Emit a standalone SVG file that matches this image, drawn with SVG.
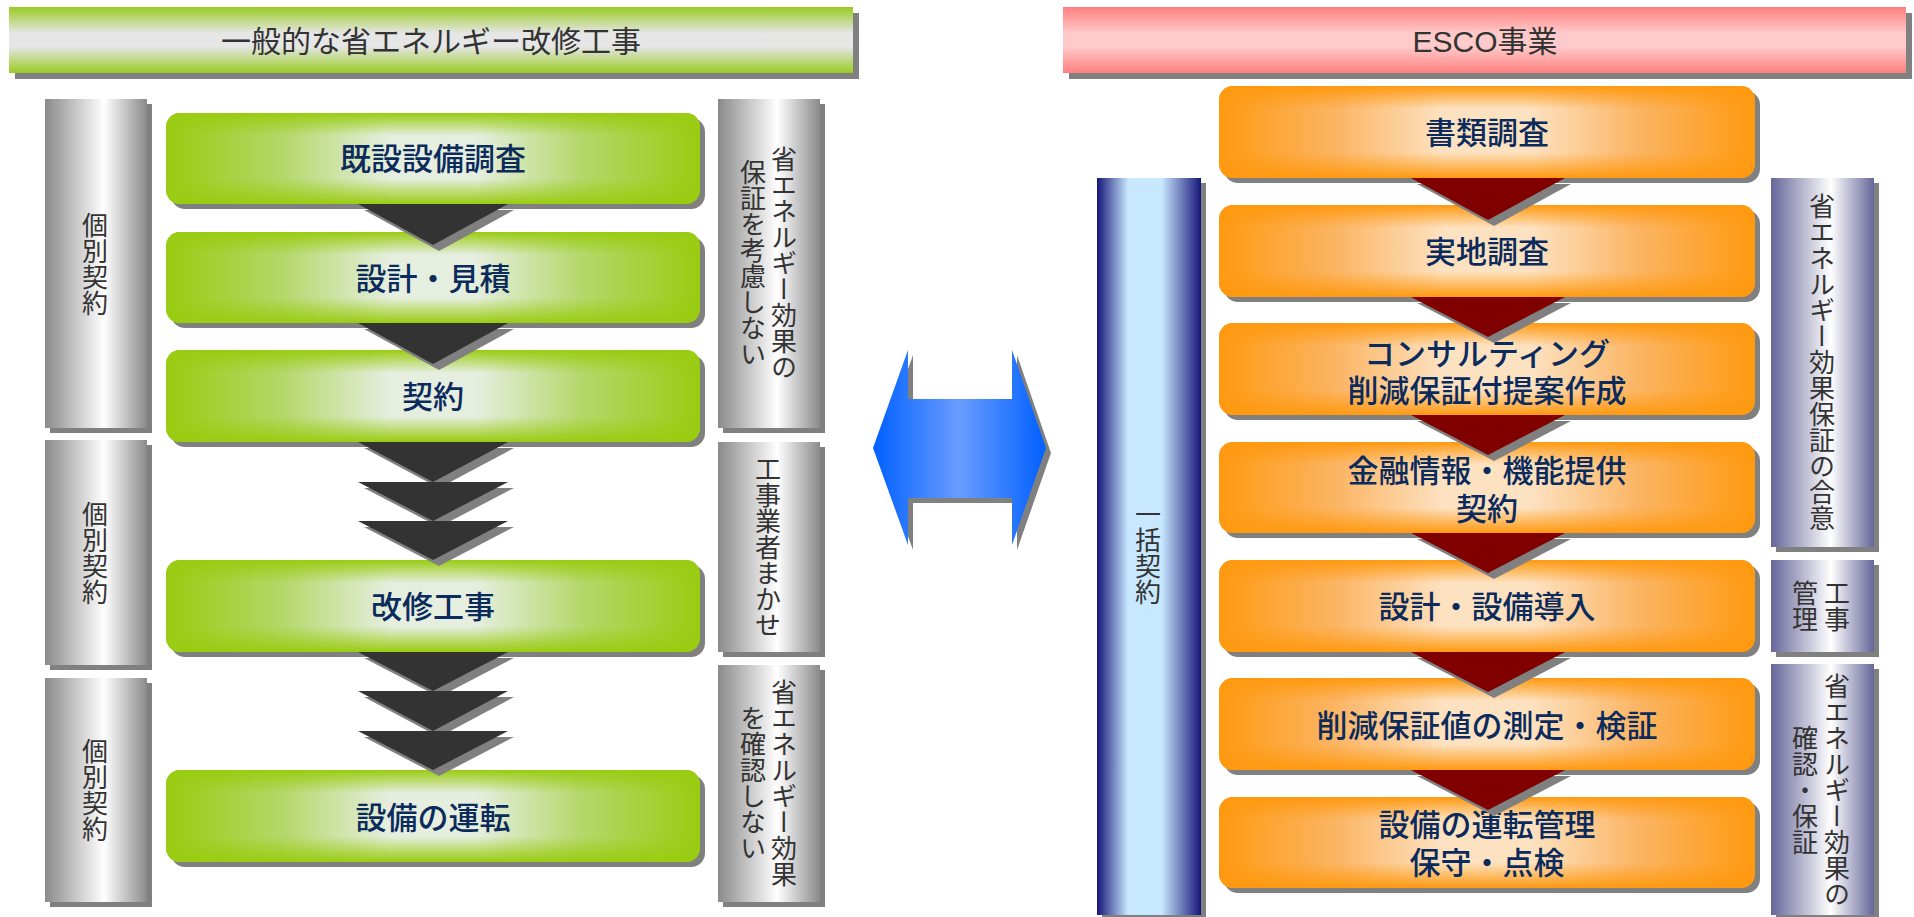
<svg xmlns="http://www.w3.org/2000/svg" width="1914" height="917" viewBox="0 0 1914 917">
<defs>
<style>
.sh{fill:#808080}
.ht{font-family:"Liberation Sans","Noto Sans CJK JP",sans-serif;font-size:30px;fill:#333;text-anchor:middle;dominant-baseline:central}
.bt{font-family:"Liberation Sans","Noto Sans CJK JP",sans-serif;font-size:31px;font-weight:500;fill:#0b2b5c;text-anchor:middle;dominant-baseline:central}
.vt{font-family:"Noto Sans CJK JP",sans-serif;font-size:26px;fill:#333;text-anchor:middle;dominant-baseline:central;writing-mode:vertical-rl}
.gb{fill:url(#gGreenH)}
.gbo{fill:url(#gGreenV)}
.ob{fill:url(#gOrangeH)}
.obo{fill:url(#gOrangeV)}
.grey{fill:url(#gGrey)}
.purp{fill:url(#gPurple)}
.tri{fill:#333333}
.tri2{fill:#800000}
</style>
<linearGradient id="gHeadG" x1="0" y1="0" x2="0" y2="1">
<stop offset="0" stop-color="#99cc22"/><stop offset="0.4" stop-color="#e6e6e6"/><stop offset="0.6" stop-color="#e6e6e6"/><stop offset="1" stop-color="#99cc22"/>
</linearGradient>
<linearGradient id="gHeadP" x1="0" y1="0" x2="0" y2="1">
<stop offset="0" stop-color="#ff7f7f"/><stop offset="0.4" stop-color="#ffcaca"/><stop offset="0.6" stop-color="#ffcaca"/><stop offset="1" stop-color="#ff7f7f"/>
</linearGradient>
<linearGradient id="gGreenH" x1="0" y1="0" x2="1" y2="0">
<stop offset="0" stop-color="#99cc11"/><stop offset="0.22" stop-color="#b4d86a"/><stop offset="0.42" stop-color="#e6eee0"/><stop offset="0.58" stop-color="#e6eee0"/><stop offset="0.78" stop-color="#b4d86a"/><stop offset="1" stop-color="#99cc11"/>
</linearGradient>
<linearGradient id="gGreenV" x1="0" y1="0" x2="0" y2="1">
<stop offset="0" stop-color="#99cc11" stop-opacity="1"/><stop offset="0.25" stop-color="#99cc11" stop-opacity="0"/><stop offset="0.72" stop-color="#99cc11" stop-opacity="0"/><stop offset="1" stop-color="#99cc11" stop-opacity="1"/>
</linearGradient>
<linearGradient id="gOrangeH" x1="0" y1="0" x2="1" y2="0">
<stop offset="0" stop-color="#ff9910"/><stop offset="0.22" stop-color="#fbb564"/><stop offset="0.42" stop-color="#fde2c2"/><stop offset="0.58" stop-color="#fde2c2"/><stop offset="0.78" stop-color="#fbb564"/><stop offset="1" stop-color="#ff9910"/>
</linearGradient>
<linearGradient id="gOrangeV" x1="0" y1="0" x2="0" y2="1">
<stop offset="0" stop-color="#ff9910" stop-opacity="1"/><stop offset="0.25" stop-color="#ff9910" stop-opacity="0"/><stop offset="0.72" stop-color="#ff9910" stop-opacity="0"/><stop offset="1" stop-color="#ff9910" stop-opacity="1"/>
</linearGradient>
<linearGradient id="gGrey" x1="0" y1="0" x2="1" y2="0">
<stop offset="0" stop-color="#8a8a8a"/><stop offset="0.58" stop-color="#ffffff"/><stop offset="1" stop-color="#8a8a8a"/>
</linearGradient>
<linearGradient id="gPurple" x1="0" y1="0" x2="1" y2="0">
<stop offset="0" stop-color="#66669a"/><stop offset="0.58" stop-color="#ffffff"/><stop offset="1" stop-color="#66669a"/>
</linearGradient>
<linearGradient id="gNavy" x1="0" y1="0" x2="1" y2="0">
<stop offset="0" stop-color="#161678"/><stop offset="0.3" stop-color="#c8e8ff"/><stop offset="0.62" stop-color="#c8e8ff"/><stop offset="1" stop-color="#161678"/>
</linearGradient>
<linearGradient id="gBlue" x1="0" y1="0" x2="1" y2="0">
<stop offset="0" stop-color="#0060ff"/><stop offset="0.5" stop-color="#6a9cff"/><stop offset="1" stop-color="#0060ff"/>
</linearGradient>
</defs>

<g id="header-left">
<rect class="sh" x="15" y="13" width="844" height="66"/>
<rect x="9" y="7" width="844" height="66" fill="url(#gHeadG)"/>
<text class="ht" x="431" y="41">一般的な省エネルギー改修工事</text>
</g>
<g id="header-right">
<rect class="sh" x="1069" y="13" width="843" height="66"/>
<rect x="1063" y="7" width="843" height="66" fill="url(#gHeadP)"/>
<text class="ht" x="1485" y="41">ESCO事業</text>
</g>

<g id="left-contract-1">
<rect class="sh" x="50" y="104" width="102" height="329"/>
<rect class="grey" x="45" y="99" width="102" height="329"/>
<text class="vt" x="95" y="264">個別契約</text>
</g>
<g id="left-contract-2">
<rect class="sh" x="50" y="445" width="102" height="225"/>
<rect class="grey" x="45" y="440" width="102" height="225"/>
<text class="vt" x="95" y="553">個別契約</text>
</g>
<g id="left-contract-3">
<rect class="sh" x="50" y="683" width="102" height="224"/>
<rect class="grey" x="45" y="678" width="102" height="224"/>
<text class="vt" x="95" y="790">個別契約</text>
</g>

<g id="left-note-1">
<rect class="sh" x="723" y="104" width="102" height="329"/>
<rect class="grey" x="718" y="99" width="102" height="329"/>
<text class="vt" x="784" y="263">省エネルギー効果の</text>
<text class="vt" x="753" y="263">保証を考慮しない</text>
</g>
<g id="left-note-2">
<rect class="sh" x="723" y="447" width="102" height="210"/>
<rect class="grey" x="718" y="442" width="102" height="210"/>
<text class="vt" x="768" y="547">工事業者まかせ</text>
</g>
<g id="left-note-3">
<rect class="sh" x="723" y="670" width="102" height="237"/>
<rect class="grey" x="718" y="665" width="102" height="237"/>
<text class="vt" x="784" y="783">省エネルギー効果</text>
<text class="vt" x="753" y="783">を確認しない</text>
</g>

<g id="step-l1">
<rect class="sh" x="171" y="118" width="534" height="91" rx="14"/>
<rect class="gb" x="166" y="113" width="534" height="91" rx="14"/>
<rect class="gbo" x="166" y="113" width="534" height="91" rx="14"/>
<text class="bt" x="433" y="159">既設設備調査</text>
</g>
<g id="step-l2">
<rect class="sh" x="171" y="237" width="534" height="91" rx="14"/>
<rect class="gb" x="166" y="232" width="534" height="91" rx="14"/>
<rect class="gbo" x="166" y="232" width="534" height="91" rx="14"/>
<text class="bt" x="433" y="279">設計・見積</text>
</g>
<g id="step-l3">
<rect class="sh" x="171" y="355" width="534" height="92" rx="14"/>
<rect class="gb" x="166" y="350" width="534" height="92" rx="14"/>
<rect class="gbo" x="166" y="350" width="534" height="92" rx="14"/>
<text class="bt" x="433" y="397">契約</text>
</g>
<g id="step-l4">
<rect class="sh" x="171" y="565" width="534" height="92" rx="14"/>
<rect class="gb" x="166" y="560" width="534" height="92" rx="14"/>
<rect class="gbo" x="166" y="560" width="534" height="92" rx="14"/>
<text class="bt" x="433" y="607">改修工事</text>
</g>
<g id="step-l5">
<rect class="sh" x="171" y="775" width="534" height="92" rx="14"/>
<rect class="gb" x="166" y="770" width="534" height="92" rx="14"/>
<rect class="gbo" x="166" y="770" width="534" height="92" rx="14"/>
<text class="bt" x="433" y="818">設備の運転</text>
</g>

<g id="esco-contract">
<rect class="sh" x="1102" y="183" width="104" height="737"/>
<rect x="1097" y="178" width="104" height="737" fill="url(#gNavy)"/>
<text class="vt" x="1148" y="553">一括契約</text>
</g>
<g id="esco-note-1">
<rect class="sh" x="1776" y="183" width="103" height="369"/>
<rect class="purp" x="1771" y="178" width="103" height="369"/>
<text class="vt" x="1822" y="362">省エネルギー効果保証の合意</text>
</g>
<g id="esco-note-2">
<rect class="sh" x="1776" y="565" width="103" height="92"/>
<rect class="purp" x="1771" y="560" width="103" height="92"/>
<text class="vt" x="1837" y="606">工事</text>
<text class="vt" x="1805" y="606">管理</text>
</g>
<g id="esco-note-3">
<rect class="sh" x="1776" y="669" width="103" height="251"/>
<rect class="purp" x="1771" y="664" width="103" height="251"/>
<text class="vt" x="1837" y="790">省エネルギー効果の</text>
<text class="vt" x="1805" y="790">確認・保証</text>
</g>

<g id="step-r1">
<rect class="sh" x="1224" y="91" width="536" height="92" rx="14"/>
<rect class="ob" x="1219" y="86" width="536" height="92" rx="14"/>
<rect class="obo" x="1219" y="86" width="536" height="92" rx="14"/>
<text class="bt" x="1487" y="133">書類調査</text>
</g>
<g id="step-r2">
<rect class="sh" x="1224" y="210" width="536" height="92" rx="14"/>
<rect class="ob" x="1219" y="205" width="536" height="92" rx="14"/>
<rect class="obo" x="1219" y="205" width="536" height="92" rx="14"/>
<text class="bt" x="1487" y="252">実地調査</text>
</g>
<g id="step-r3">
<rect class="sh" x="1224" y="328" width="536" height="92" rx="14"/>
<rect class="ob" x="1219" y="323" width="536" height="92" rx="14"/>
<rect class="obo" x="1219" y="323" width="536" height="92" rx="14"/>
<text class="bt" x="1487" y="354">コンサルティング</text>
<text class="bt" x="1487" y="391">削減保証付提案作成</text>
</g>
<g id="step-r4">
<rect class="sh" x="1224" y="447" width="536" height="91" rx="14"/>
<rect class="ob" x="1219" y="442" width="536" height="91" rx="14"/>
<rect class="obo" x="1219" y="442" width="536" height="91" rx="14"/>
<text class="bt" x="1487" y="471">金融情報・機能提供</text>
<text class="bt" x="1487" y="509">契約</text>
</g>
<g id="step-r5">
<rect class="sh" x="1224" y="565" width="536" height="92" rx="14"/>
<rect class="ob" x="1219" y="560" width="536" height="92" rx="14"/>
<rect class="obo" x="1219" y="560" width="536" height="92" rx="14"/>
<text class="bt" x="1487" y="607">設計・設備導入</text>
</g>
<g id="step-r6">
<rect class="sh" x="1224" y="683" width="536" height="92" rx="14"/>
<rect class="ob" x="1219" y="678" width="536" height="92" rx="14"/>
<rect class="obo" x="1219" y="678" width="536" height="92" rx="14"/>
<text class="bt" x="1487" y="726">削減保証値の測定・検証</text>
</g>
<g id="step-r7">
<rect class="sh" x="1224" y="802" width="536" height="91" rx="14"/>
<rect class="ob" x="1219" y="797" width="536" height="91" rx="14"/>
<rect class="obo" x="1219" y="797" width="536" height="91" rx="14"/>
<text class="bt" x="1487" y="825">設備の運転管理</text>
<text class="bt" x="1487" y="863">保守・点検</text>
</g>

<g id="connectors">
<g id="left-arrows">
<polygon class="sh" points="364,210 514,210 439,251"/>
<polygon class="tri" points="358,204 508,204 433,245"/>
<polygon class="sh" points="364,329 514,329 439,370"/>
<polygon class="tri" points="358,323 508,323 433,364"/>
<polygon class="sh" points="364,448 514,448 439,488"/>
<polygon class="tri" points="358,442 508,442 433,482"/>
<polygon class="sh" points="364,488 514,488 439,527"/>
<polygon class="tri" points="358,482 508,482 433,521"/>
<polygon class="sh" points="364,527 514,527 439,566"/>
<polygon class="tri" points="358,521 508,521 433,560"/>
<polygon class="sh" points="364,658 514,658 439,697"/>
<polygon class="tri" points="358,652 508,652 433,691"/>
<polygon class="sh" points="364,697 514,697 439,737"/>
<polygon class="tri" points="358,691 508,691 433,731"/>
<polygon class="sh" points="364,737 514,737 439,776"/>
<polygon class="tri" points="358,731 508,731 433,770"/>
</g>
<g id="right-arrows">
<polygon class="sh" points="1417,184 1571,184 1494,226"/>
<polygon class="tri2" points="1411,178 1565,178 1488,220"/>
<polygon class="sh" points="1417,303 1571,303 1494,343"/>
<polygon class="tri2" points="1411,297 1565,297 1488,337"/>
<polygon class="sh" points="1417,421 1571,421 1494,461"/>
<polygon class="tri2" points="1411,415 1565,415 1488,455"/>
<polygon class="sh" points="1417,539 1571,539 1494,579"/>
<polygon class="tri2" points="1411,533 1565,533 1488,573"/>
<polygon class="sh" points="1417,658 1571,658 1494,698"/>
<polygon class="tri2" points="1411,652 1565,652 1488,692"/>
<polygon class="sh" points="1417,776 1571,776 1494,816"/>
<polygon class="tri2" points="1411,770 1565,770 1488,810"/>
</g>
<g id="compare-arrow">
<polygon class="sh" points="878,453 913,355 913,404 1017,404 1017,355 1051,453 1017,550 1017,503 913,503 913,550"/>
<polygon fill="url(#gBlue)" points="873,448 908,350 908,399 1012,399 1012,350 1046,448 1012,545 1012,498 908,498 908,545"/>
</g>
</g>
</svg>
